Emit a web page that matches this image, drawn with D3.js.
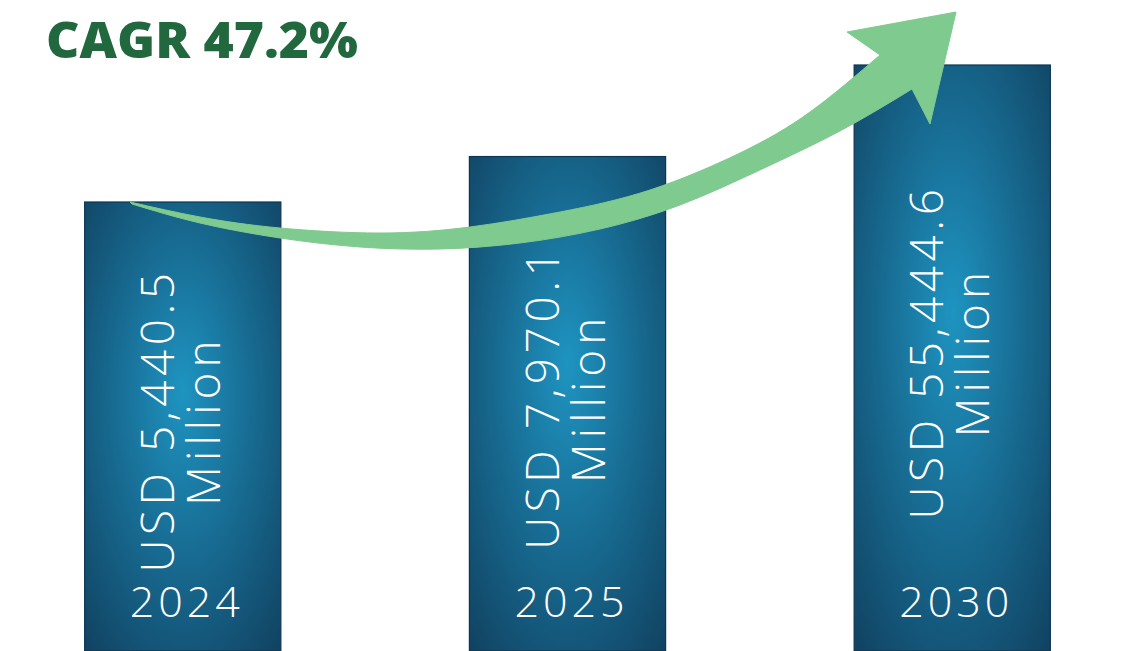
<!DOCTYPE html>
<html>
<head>
<meta charset="utf-8">
<script src="https://cdn.jsdelivr.net/npm/d3@7"></script>
<style>
  html, body { margin: 0; padding: 0; background: #fff; }
  svg { display: block; }
</style>
</head>
<body>
<div id="chart"></div>
<script>
// market size, USD million
const years = ['2024', '2025', '2030'];
const values = [5440.5, 7970.1, 55444.6];
const valueLabels = ['USD 5,440.5', 'USD 7,970.1', 'USD 55,444.6'];
const unitLabel = 'Million';
const cagrLabel = 'CAGR 47.2%';

const width = 1133, height = 651;

const svg = d3.select('#chart').append('svg')
  .attr('width', width)
  .attr('height', height);

const defs = svg.append('defs');
const grad = defs.append('radialGradient')
  .attr('id', 'barGrad')
  .attr('cx', '50%').attr('cy', '46%').attr('r', '75%')
  .attr('fx', '50%').attr('fy', '42%');
grad.append('stop').attr('offset', '0%').attr('stop-color', '#1e94c1');
grad.append('stop').attr('offset', '45%').attr('stop-color', '#186d94');
grad.append('stop').attr('offset', '100%').attr('stop-color', '#10405f');

const xScale = d3.scaleBand()
  .domain(years)
  .range([0, 1135])
  .paddingInner(0.49)
  .paddingOuter(0.22);

// bars are not proportional in the source; a compressive power scale reproduces them
const yScale = d3.scalePow()
  .exponent(-0.9)
  .domain([d3.min(values), d3.max(values)])
  .range([202, 65]);

const data = years.map((y, i) => ({year: y, value: values[i], label: valueLabels[i]}));

const bars = svg.append('g').selectAll('g')
  .data(data)
  .enter()
  .append('g')
  .attr('transform', d => `translate(${xScale(d.year)},0)`);

bars.append('rect')
  .attr('x', 0)
  .attr('y', d => yScale(d.value))
  .attr('width', xScale.bandwidth())
  .attr('height', d => height - yScale(d.value))
  .attr('fill', 'url(#barGrad)')
  .attr('stroke', '#0d3652')
  .attr('stroke-width', 1.2);

const cx = xScale.bandwidth() / 2;
const textFont = "'Open Sans', 'DejaVu Sans', sans-serif";

// rotated value + unit labels
bars.each(function (d) {
  const g = d3.select(this);
  const mid = (yScale(d.value) + height) / 2 - 6;
  g.append('text')
    .attr('transform', `translate(${cx - 9},${mid}) rotate(-90)`)
    .attr('text-anchor', 'middle')
    .attr('fill', '#ffffff')
    .attr('font-family', textFont)
    .attr('font-weight', 300)
    .attr('font-size', 46)
    .attr('letter-spacing', 4.5)
    .text(d.label);
  g.append('text')
    .attr('transform', `translate(${cx + 37},${mid}) rotate(-90)`)
    .attr('text-anchor', 'middle')
    .attr('fill', '#ffffff')
    .attr('font-family', textFont)
    .attr('font-weight', 300)
    .attr('font-size', 46)
    .attr('letter-spacing', 5)
    .text(unitLabel);
});

// year labels
bars.append('text')
  .attr('x', cx + 4)
  .attr('y', 617)
  .attr('text-anchor', 'middle')
  .attr('fill', '#ffffff')
  .attr('font-family', textFont)
  .attr('font-weight', 300)
  .attr('font-size', 43)
  .attr('letter-spacing', 4)
  .text(d => d.year);

// growth arrow
const topEdge = [[130,202],[200,217],[280,228],[380,233],[470,227],[560,212],[650,190],[740,153],[810,112],[880,55]];
const bottomEdge = [[912,89],[840,131],[760,170],[680,205],[600,229],[520,243],[440,249],[360,247],[280,238],[200,223],[132,204]];
const curve = d3.line().curve(d3.curveNatural);
const head = 'L847,32 L956,12 L930,124 L912,89';
const arrowPath = curve(topEdge) + head + curve(bottomEdge).replace(/^M/, 'L') + 'Z';

svg.append('path')
  .attr('d', arrowPath)
  .attr('fill', '#7fca8f')
  .attr('stroke', '#7fca8f')
  .attr('stroke-width', 1)
  .attr('stroke-linejoin', 'round');

// title
svg.append('text')
  .attr('x', 46)
  .attr('y', 58)
  .attr('fill', '#22683f')
  .attr('font-family', "'Open Sans', 'DejaVu Sans', sans-serif")
  .attr('font-weight', 800)
  .attr('font-size', 49)
  .attr('textLength', 312)
  .attr('lengthAdjust', 'spacingAndGlyphs')
  .text(cagrLabel);
</script>
</body>
</html>
